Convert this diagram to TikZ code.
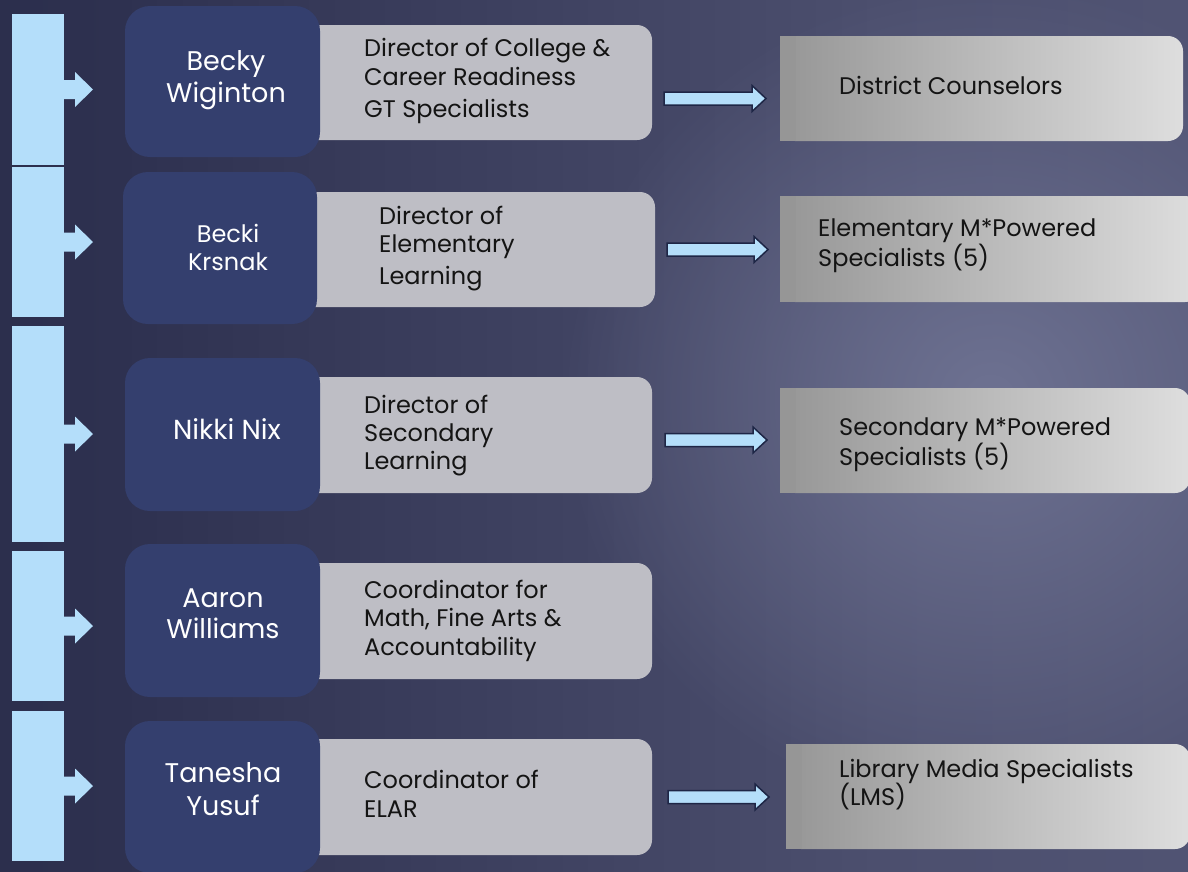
\documentclass[tikz,border=0pt]{standalone}
\usepackage{fontspec}
\setmainfont{Poppins}
\usetikzlibrary{calc,fadings}
\definecolor{bg0}{RGB}{31,35,62}
\definecolor{bg1}{RGB}{46,49,80}
\definecolor{bg2}{RGB}{76,79,110}
\definecolor{bg3}{RGB}{88,91,124}
\definecolor{glowc}{RGB}{110,114,146}
\definecolor{namec}{RGB}{52,63,110}
\definecolor{barc}{RGB}{180,222,250}
\definecolor{greyc}{RGB}{190,190,197}
\definecolor{rl}{RGB}{150,150,150}
\definecolor{rr}{RGB}{222,222,222}
\definecolor{arrline}{RGB}{30,38,70}
\definecolor{txt}{RGB}{20,20,20}
\pgfdeclarehorizontalshading{bgshade}{100bp}{color(0bp)=(bg0); color(30bp)=(bg1); color(62bp)=(bg2); color(100bp)=(bg3)}
\tikzfading[name=glowfade, inner color=transparent!0, outer color=transparent!100]
\tikzset{
  bar/.style={fill=barc, inner sep=0, outer sep=0, minimum width=52},
  namebox/.style={fill=namec, rounded corners=25, inner sep=0, outer sep=0, minimum width=195},
  greybox/.style={fill=greyc, rounded corners=15, inner sep=0, outer sep=0, minimum height=116},
  rightbox/.style={left color=rl, right color=rr, rounded corners=15, inner sep=0, outer sep=0, minimum height=105},
  boxtext/.style={anchor=base west, align=left, inner sep=0, text=txt, font=\fontsize{24}{28.5}\selectfont},
  nametext/.style={anchor=base, align=center, inner sep=0, text=white},
  blockarrow/.style={fill=barc, draw=arrline, line width=1.5pt, line join=miter, to path={
    let \p1=(\tikztostart), \p2=(\tikztotarget) in
    (\x1,\y1+6.5pt) -- (\x2-14pt,\y1+6.5pt) -- (\x2-14pt,\y1+13pt) -- (\x2,\y1) --
    (\x2-14pt,\y1-13pt) -- (\x2-14pt,\y1-6.5pt) -- (\x1,\y1-6.5pt) -- cycle}}
}
\begin{document}
\begin{tikzpicture}[x=1pt,y=-1pt]
\useasboundingbox (0,0) rectangle (1188,871);
% background
\shade[shading=bgshade] (0,0) rectangle (1188,871);
\fill[glowc, path fading=glowfade] (990,400) ellipse (430 and 420);

% left bars
\node[bar, minimum height=151] (b1) at (38,89.5) {};
\node[bar, minimum height=150] (b2) at (38,242) {};
\node[bar, minimum height=216] (b3) at (38,434) {};
\node[bar, minimum height=150] (b4) at (38,626) {};
\node[bar, minimum height=150] (b5) at (38,786) {};
\foreach \b in {b1,b2,b3,b4,b5}{
  \fill[barc] ($(\b.east)+(-1,-9.5)$) -- ($(\b.east)+(11,-9.5)$) -- ($(\b.east)+(11,-17.5)$)
    -- ($(\b.east)+(29,0)$) -- ($(\b.east)+(11,17.5)$) -- ($(\b.east)+(11,9.5)$)
    -- ($(\b.east)+(-1,9.5)$) -- cycle;
}

% grey title boxes
\node[greybox, minimum width=352, minimum height=115] (g1) at (476,82.5) {};
\node[greybox, minimum width=355, minimum height=115] (g2) at (477.5,249.5) {};
\node[greybox, minimum width=352] (g3) at (476,435) {};
\node[greybox, minimum width=352] (g4) at (476,621) {};
\node[greybox, minimum width=352] (g5) at (476,797) {};

% name boxes
\node[namebox, minimum height=151] (n1) at (222.5,81.5) {};
\node[namebox, minimum width=194, minimum height=152] (n2) at (220,248) {};
\node[namebox, minimum height=153] (n3) at (222.5,434.5) {};
\node[namebox, minimum height=153] (n4) at (222.5,620.5) {};
\node[namebox, minimum height=152] (n5) at (222.5,797) {};

% right boxes
\node[rightbox, minimum width=403] (r1) at (981.5,88.5) {};
\node[rightbox, minimum width=420, minimum height=106] (r2) at (990,249) {};
\node[rightbox, minimum width=410] (r3) at (985,440.5) {};
\node[rightbox, minimum width=404] (r4) at (988,796.5) {};
\foreach \r in {r1,r2,r3,r4}{
  \fill[rl] (\r.north west) rectangle ([xshift=16pt]\r.south west);
}

% names (anchor = baseline of last line)
\node[nametext, font=\fontsize{27}{32}\selectfont] (t1) at (226,102) {Becky\\Wiginton};
\node[nametext, font=\fontsize{24}{28}\selectfont] (t2) at (228,270) {Becki\\Krsnak};
\node[nametext, font=\fontsize{27.5}{31}\selectfont] (t3) at (227,439) {Nikki Nix};
\node[nametext, font=\fontsize{27}{31}\selectfont] (t4) at (223,638) {Aaron\\Williams};
\node[nametext, font=\fontsize{27}{33}\selectfont] (t5) at (223,815) {Tanesha\\Yusuf};

% titles
\node[boxtext] (gt1) at (364,117) {Director of College \&\\Career Readiness\\[3.5pt]GT Specialists};
\node[boxtext] (gt2) at (379,284) {Director of\\Elementary\\[3pt]Learning};
\node[boxtext] (gt3) at (364,469) {Director of\\Secondary\\[-1pt]Learning};
\node[boxtext] (gt4) at (364,655) {Coordinator for\\Math, Fine Arts \&\\Accountability};
\node[boxtext] (gt5) at (364,817) {Coordinator of\\ELAR};

% right texts
\node[boxtext] (rt1) at (839,94) {District Counselors};
\node[boxtext] (rt2) at (818,266) {Elementary M*Powered\\Specialists (5)};
\node[boxtext] (rt3) at (839,465) {Secondary M*Powered\\Specialists (5)};
\node[boxtext] (rt4) at (839,805) {Library Media Specialists\\[-2.5pt](LMS)};

% connectors
\draw[blockarrow] ([shift={(12,16)}]g1.east) to ([xshift=-14pt]r1.west);
\draw[blockarrow] ([xshift=12pt]g2.east) to ([xshift=-12pt]r2.west);
\draw[blockarrow] ([shift={(13,5)}]g3.east) to ([xshift=-13pt]r3.west);
\draw[blockarrow] ([xshift=16pt]g5.east) to ([xshift=-17pt]r4.west);
\end{tikzpicture}
\end{document}
